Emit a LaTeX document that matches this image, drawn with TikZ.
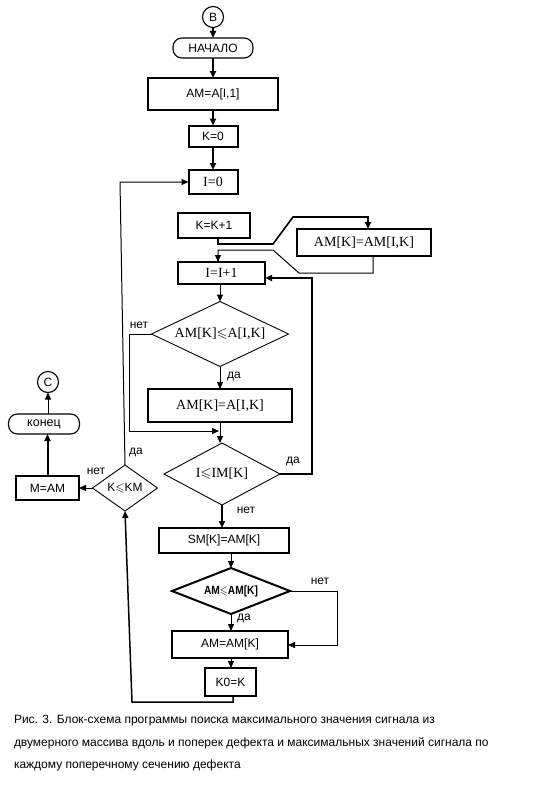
\documentclass[tikz,border=0pt]{standalone}
\usepackage{fontspec}
\usepackage{amssymb}
\setmainfont{Liberation Sans}
\newfontfamily\seriffam{Liberation Serif}
\usetikzlibrary{shapes.geometric,arrows.meta}
\begin{document}
\begin{tikzpicture}[x=1pt,y=-1pt,
  every node/.style={inner sep=0pt,outer sep=0pt},
  box/.style={draw,line width=1.1pt,font=\fontsize{12}{13}\selectfont},
  tbox/.style={box,line width=2pt},
  sbox/.style={draw,line width=2pt,font=\seriffam\fontsize{14}{15}\selectfont},
  term/.style={draw,rounded corners=9pt,line width=1.1pt,font=\fontsize{12}{13}\selectfont},
  conn/.style={draw,circle,line width=1.1pt,minimum size=21pt,font=\fontsize{12}{13}\selectfont},
  dia/.style={draw,diamond,line width=0.9pt},
  lab/.style={font=\fontsize{12}{13}\selectfont},
  arr/.style={line width=1pt,-{Triangle[length=7pt,width=6pt]}},
  tarr/.style={line width=2pt,-{Triangle[length=7pt,width=6pt]}},
  capt/.style={anchor=west,font=\fontsize{12}{13}\selectfont}
]
\useasboundingbox (0,0) rectangle (548,792);
\fill[white] (0,0) rectangle (548,792);

% main column
\node[conn] (B) at (213,17) {В};
\node[term,minimum width=80pt,minimum height=20pt] (start) at (213,48) {НАЧАЛО};
\node[tbox,minimum width=130pt,minimum height=32pt] (am1) at (213,94) {AM=A[I,1]};
\node[tbox,minimum width=49pt,minimum height=21pt] (k0) at (213,136) {K=0};
\node[tbox,minimum width=49pt,minimum height=24pt,font=\seriffam\fontsize{14}{15}\selectfont] (i0) at (213,182) {I=0};
\node[box,line width=1.5pt,minimum width=72pt,minimum height=25pt] (kk) at (214,225.5) {K=K+1};
\node[sbox,minimum width=134pt,minimum height=27pt] (amk) at (364,242.5) {AM[K]=AM[I,K]};
\node[box,line width=1.5pt,minimum width=87pt,minimum height=22pt,font=\seriffam\fontsize{14}{15}\selectfont] (ii) at (221.5,273) {I=I+1};
\node[dia,aspect=2.1,minimum width=137pt,minimum height=65pt,font=\seriffam\fontsize{14}{15}\selectfont] (d1) at (220,334) {AM[K]$\leqslant$A[I,K]};
\node[sbox,minimum width=144pt,minimum height=33pt] (a1) at (220,405.5) {AM[K]=A[I,K]};
\node[dia,aspect=1.9,minimum width=116pt,minimum height=62pt,font=\seriffam\fontsize{14}{15}\selectfont] (d2) at (222,474) {I$\leqslant$IM[K]};
\node[box,line width=1.2pt,minimum width=130pt,minimum height=25pt] (sm) at (224,540.5) {SM[K]=AM[K]};
\node[dia,aspect=2.5,line width=2pt,minimum width=118pt,minimum height=46pt,font=\bfseries\fontsize{12}{13}\selectfont] (d3) at (231,591) {\scalebox{0.85}[1]{AM\boldmath$\leqslant$AM[K]}};
\node[box,line width=1.2pt,minimum width=116pt,minimum height=27pt] (am2) at (230,644.5) {AM=AM[K]};
\node[box,line width=1.2pt,minimum width=51pt,minimum height=28pt] (kk0) at (230.5,682) {K0=K};

% left column
\node[dia,aspect=1.4,minimum width=65pt,minimum height=46pt,font=\fontsize{12}{13}\selectfont] (d4) at (125,488) {K$\leqslant$KM};
\node[box,line width=1.2pt,minimum width=63pt,minimum height=24pt] (m) at (47.5,488) {M=AM};
\node[term,minimum width=71pt,minimum height=20pt,font=\fontsize{12.5}{13}\selectfont] (end) at (44,424) {конец};
\node[conn] (C) at (48,382) {С};

% coordinates
\coordinate (s1) at (273,244);
\coordinate (s2) at (293,217);
\coordinate (s3) at (299,273);
\coordinate (s4) at (273,250);
\coordinate (n1) at (129,334);
\coordinate (j1) at (220,431);
\coordinate (r1) at (312,278);
\coordinate (r2) at (337,645);
\coordinate (r3) at (132,702);
\coordinate (l1) at (120,182);

% connectors
\draw[tarr] (B) -- (start);
\draw[tarr] (start) -- (am1);
\draw[tarr] (am1) -- (k0);
\draw[tarr] (k0) -- (i0);
\draw[arr,line width=1.6pt] ([xshift=4pt]kk.south) |- (s1) -- (s2) -| ([xshift=4pt]amk.north);
\draw[arr] ([xshift=9pt]amk.south) |- (s3) -- (s4) -| ([xshift=-3.5pt]ii.north);
\draw[arr] (ii.south -| d1.north) -- (d1.north);
\draw[arr] (d1.south) -- (a1.north);
\draw[arr] (d1.west) -- (n1) |- ([xshift=-1pt]j1);
\draw[arr] (a1.south) -- (a1.south |- d2.north);
\draw[tarr] (d2.east) -| (r1) -- (r1 -| ii.east);
\draw[tarr] (d2.south) -- (d2.south |- sm.north);
\draw[arr] (sm.south -| d3.north) -- (d3.north);
\draw[arr] (d3.east) -| (r2) -- (r2 -| am2.east);
\draw[arr] (d3.south) -- (d3.south |- am2.north);
\draw[arr] (d3.south |- am2.south) -- (d3.south |- kk0.north);
\draw[arr,line width=1.5pt] ([xshift=2.5pt]kk0.south) |- (r3) -- (d4.south);
\draw[arr] (d4.north) -- (l1) -- (l1 -| i0.west);
\draw[arr] (d4.west) -- (m.east);
\draw[tarr] (m.north) -- (m.north |- end.south);
\draw[arr] (end.north -| C.south) -- (C.south);

% labels
\node[lab] (t1) at (139,325) {нет};
\node[lab] (t2) at (234,376) {да};
\node[lab] (t3) at (293,461) {да};
\node[lab] (t4) at (246,510) {нет};
\node[lab] (t5) at (320,581) {нет};
\node[lab] (t6) at (244,618) {да};
\node[lab] (t7) at (136,452) {да};
\node[lab] (t8) at (96,471) {нет};

% caption
\node[capt] (c1) at (14,721) {Рис. 3. Блок-схема программы поиска максимального значения сигнала из};
\node[capt] (c2) at (14,743) {двумерного массива вдоль и поперек дефекта и максимальных значений сигнала по};
\node[capt] (c3) at (14,765) {каждому поперечному сечению дефекта};
\end{tikzpicture}
\end{document}
